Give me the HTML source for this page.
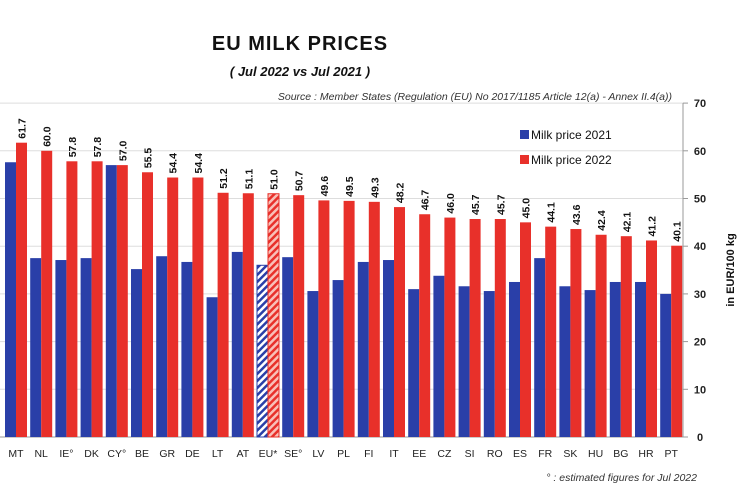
<!DOCTYPE html>
<html><head><meta charset="utf-8">
<style>
body{margin:0;background:#fff;font-family:"Liberation Sans",sans-serif;}
svg{display:block}
</style></head>
<body>
<svg id="c" width="743" height="495">
<defs>
<pattern id="hb" patternUnits="userSpaceOnUse" width="5" height="5" patternTransform="rotate(45)"><rect width="5" height="5" fill="#fff"/><rect width="2.5" height="5" fill="#2a3fa8"/></pattern>
<pattern id="hr" patternUnits="userSpaceOnUse" width="5" height="5" patternTransform="rotate(45)"><rect width="5" height="5" fill="#f8c0b8"/><rect width="2.5" height="5" fill="#e8302a"/></pattern>
</defs>
<text x="300" y="50" text-anchor="middle" font-size="20" font-weight="bold" fill="#111" letter-spacing="1">EU  MILK  PRICES</text>
<text x="300" y="76" text-anchor="middle" font-size="13" font-weight="bold" font-style="italic" fill="#111">( Jul 2022  vs  Jul 2021 )</text>
<text x="672" y="100" text-anchor="end" font-size="10.5" font-style="italic" fill="#333">Source : Member States (Regulation (EU) No 2017/1185 Article 12(a) - Annex II.4(a))</text>
<g id="grid"></g>
<g id="bars"></g>
<g id="labels"></g>
<g id="axis"></g>
<rect x="520" y="130" width="9" height="9" fill="#2a3fa8"/>
<text x="531" y="139" font-size="12" fill="#111">Milk price 2021</text>
<rect x="520" y="155" width="9" height="9" fill="#e8302a"/>
<text x="531" y="164" font-size="12" fill="#111">Milk price 2022</text>
<text transform="translate(734,270) rotate(-90)" text-anchor="middle" font-size="11" font-weight="bold" fill="#111">in EUR/100 kg</text>
<text x="697" y="481" text-anchor="end" font-size="10.5" font-style="italic" fill="#333">° : estimated figures for Jul 2022</text>
</svg>
<script>
const categories=["MT","NL","IE°","DK","CY°","BE","GR","DE","LT","AT","EU*","SE°","LV","PL","FI","IT","EE","CZ","SI","RO","ES","FR","SK","HU","BG","HR","PT"];
const price2021=[57.6,37.5,37.1,37.5,57.0,35.2,37.9,36.7,29.3,38.8,36.0,37.7,30.6,32.9,36.7,37.1,31.0,33.8,31.6,30.6,32.5,37.5,31.6,30.8,32.5,32.5,30.0];
const price2022=[61.7,60.0,57.8,57.8,57.0,55.5,54.4,54.4,51.2,51.1,51.0,50.7,49.6,49.5,49.3,48.2,46.7,46.0,45.7,45.7,45.0,44.1,43.6,42.4,42.1,41.2,40.1];
const yTicks=[0,10,20,30,40,50,60,70];
const NS="http://www.w3.org/2000/svg";
const y0=437,ppu=4.77,x0=16,step=25.2,bw=11,xr=683;
const y=v=>y0-v*ppu;
const xc=i=>x0+i*step;
function mk(tag,attrs,parent){const e=document.createElementNS(NS,tag);for(const k in attrs)e.setAttribute(k,attrs[k]);parent.appendChild(e);return e;}
const G=document.getElementById('grid'),B=document.getElementById('bars'),L=document.getElementById('labels'),A=document.getElementById('axis');
yTicks.forEach(t=>{
 const l=mk('line',{x1:0,x2:xr,y1:y(t),y2:y(t),stroke:t===0?'#999':'#ddd','stroke-width':1},G);
 
 
 const tk=mk('line',{x1:xr,x2:xr+5,y1:y(t),y2:y(t),stroke:'#999'},A);
 
 
 const tx=mk('text',{x:700,y:y(t)+4,'text-anchor':'middle','font-size':11,'font-weight':'bold',fill:'#222'},A);
 tx.textContent=t;
 
 
});
const ax=mk('line',{x1:xr,x2:xr,y1:y(70),y2:y(0),stroke:'#999'},A);


categories.forEach((c,i)=>{
 const eu=c==="EU*";
 const b1=mk('rect',{x:xc(i)-bw,y:y(price2021[i]),width:bw,height:price2021[i]*ppu,fill:eu?'url(#hb)':'#2a3fa8',stroke:eu?'#2a3fa8':'none'},B);
 
 
 const b2=mk('rect',{x:xc(i),y:y(price2022[i]),width:bw,height:price2022[i]*ppu,fill:eu?'url(#hr)':'#e8302a',stroke:eu?'#e8302a':'none'},B);
 
 
 const vx=xc(i)+bw/2+4,vy=y(price2022[i])-4;
 const v=mk('text',{transform:`translate(${vx},${vy}) rotate(-90)`,'font-size':10.5,'font-weight':'bold',fill:'#111'},L);
 v.textContent=price2022[i].toFixed(1);
 
 
 const t=mk('text',{x:xc(i),y:457,'text-anchor':'middle','font-size':10.5,fill:'#222'},L);
 t.textContent=c;
 
 
});
</script>
</body></html>
